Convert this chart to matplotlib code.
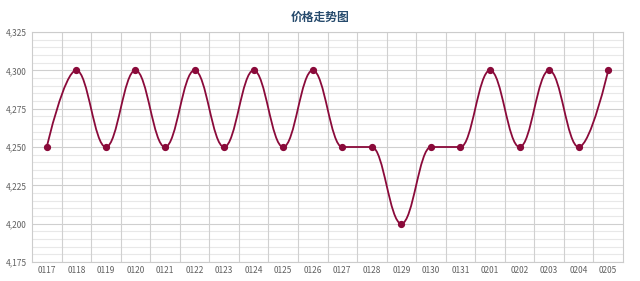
import matplotlib
matplotlib.use("Agg")
import matplotlib.pyplot as plt
from matplotlib.path import Path
from matplotlib.patches import PathPatch
import numpy as np

plt.rcParams['font.family'] = ['Noto Sans CJK SC', 'DejaVu Sans']

categories = ["0117", "0118", "0119", "0120", "0121", "0122", "0123", "0124", "0125", "0126",
              "0127", "0128", "0129", "0130", "0131", "0201", "0202", "0203", "0204", "0205"]
prices = [4250, 4300, 4250, 4300, 4250, 4300, 4250, 4300, 4250, 4300,
          4250, 4250, 4200, 4250, 4250, 4300, 4250, 4300, 4250, 4300]
y_ticks = [4175, 4200, 4225, 4250, 4275, 4300, 4325]
title = "价格走势图"

line_color = "#8a0a3a"

fig = plt.figure(figsize=(6.4, 2.81), dpi=100)
ax = fig.add_axes([32/640, 1-262/281, (623-32)/640, (262-32)/281])

xs = np.arange(len(categories), dtype=float)
ys = np.array(prices, dtype=float)

# Highcharts-style spline control points
def spline_path(x, y, smoothing=1.5):
    denom = smoothing + 1
    n = len(x)
    lc = [(x[i], y[i]) for i in range(n)]
    rc = [(x[i], y[i]) for i in range(n)]
    for i in range(1, n - 1):
        px, py = x[i], y[i]
        lx, ly = x[i-1], y[i-1]
        nx, ny = x[i+1], y[i+1]
        lcx = (smoothing*px + lx)/denom
        lcy = (smoothing*py + ly)/denom
        rcx = (smoothing*px + nx)/denom
        rcy = (smoothing*py + ny)/denom
        if rcx != lcx:
            corr = ((rcy - lcy)*(rcx - px))/(rcx - lcx) + py - rcy
            lcy += corr
            rcy += corr
        if lcy > ly and lcy > py:
            lcy = max(ly, py); rcy = 2*py - lcy
        elif lcy < ly and lcy < py:
            lcy = min(ly, py); rcy = 2*py - lcy
        if rcy > ny and rcy > py:
            rcy = max(ny, py); lcy = 2*py - rcy
        elif rcy < ny and rcy < py:
            rcy = min(ny, py); lcy = 2*py - rcy
        lc[i] = (lcx, lcy); rc[i] = (rcx, rcy)
    verts = [(x[0], y[0])]
    codes = [Path.MOVETO]
    for i in range(1, n):
        verts += [rc[i-1], lc[i], (x[i], y[i])]
        codes += [Path.CURVE4]*3
    return Path(verts, codes)

ax.add_patch(PathPatch(spline_path(xs, ys), facecolor='none', edgecolor=line_color, lw=1.3, zorder=3))
ax.plot(xs, ys, 'o', color=line_color, ms=4.2, zorder=4)

ax.set_xlim(-0.5, len(categories) - 0.5)
ax.set_ylim(4175, 4325)

# grid
for v in np.arange(4175, 4326, 5):
    major = (v - 4175) % 25 == 0
    ax.axhline(v, color="#cfcfcf" if major else "#e8e8e8", lw=0.8, zorder=1)
for b in np.arange(0.5, len(categories) - 0.5, 1):
    ax.axvline(b, color="#d0d0d0", lw=0.8, zorder=1)

ax.set_xticks(xs)
ax.set_xticklabels(categories)
ax.set_yticks(y_ticks)
ax.set_yticklabels([f"{v:,}" for v in y_ticks])
ax.tick_params(axis='both', length=0, labelsize=6, colors="#606060", pad=3)
ax.tick_params(axis='y', pad=4)

for s in ax.spines.values():
    s.set_color("#cccccc")
    s.set_linewidth(0.8)

fig.text(0.5, 1-17/281, title, ha='center', va='center', fontsize=8.5, fontweight='bold', color="#274b6d")

fig.savefig("out.png", dpi=100)
